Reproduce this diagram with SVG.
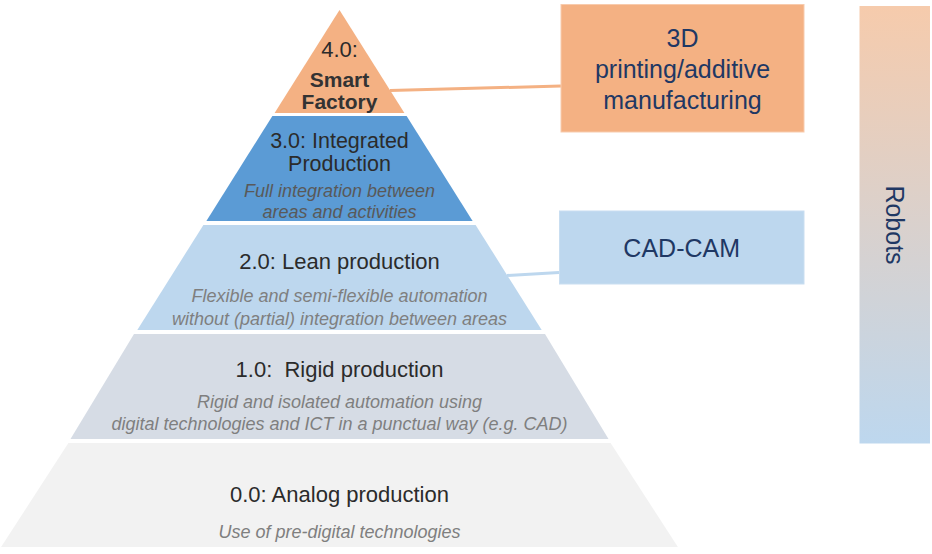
<svg xmlns="http://www.w3.org/2000/svg" width="932" height="554" viewBox="0 0 932 554">
<defs>
<linearGradient id="robotsGrad" x1="0" y1="0" x2="0" y2="1">
<stop offset="0" stop-color="#F6CBAC"/>
<stop offset="1" stop-color="#BDD7EE"/>
</linearGradient>
<style>
.title{font-family:"Liberation Sans",Arial,sans-serif;font-size:22px;fill:#2B2B2B;text-anchor:middle;white-space:pre}
.t3{font-size:21.5px}
.bold{font-weight:bold;font-size:21px;fill:#333333}
.desc{font-family:"Liberation Sans",Arial,sans-serif;font-size:18px;font-style:italic;fill:#7F7F7F;text-anchor:middle}
.desc3{fill:#595959}
.box{font-family:"Liberation Sans",Arial,sans-serif;font-size:25px;fill:#1F3864;text-anchor:middle}
.conn{fill:none;stroke-width:3}
</style>
</defs>
<rect width="932" height="554" fill="#FFFFFF"/>
<g id="connectors">
<line class="conn" x1="390" y1="90.5" x2="561" y2="86" stroke="#F4B183"/>
<line class="conn" x1="507" y1="275.5" x2="559" y2="272.5" stroke="#BDD7EE"/>
</g>
<g id="tier0">
<polygon points="68.4,443 610.6,443 677.9,547 1.1,547" fill="#F2F2F2"/>
<text class="title" x="339.5" y="502">0.0: Analog production</text>
<text class="desc" x="339.5" y="538">Use of pre-digital technologies</text>
</g>
<g id="tier1">
<polygon points="134,334 545,334 608.5,439 70.5,439" fill="#D6DCE5"/>
<text class="title" x="339.5" y="377">1.0:  Rigid production</text>
<text class="desc" x="339.5" y="408">Rigid and isolated automation using</text>
<text class="desc" x="339.5" y="430">digital technologies and ICT in a punctual way (e.g. CAD)</text>
</g>
<g id="tier2">
<polygon points="203.4,225 475.6,225 541.7,330 137.3,330" fill="#BDD7EE"/>
<text class="title" x="339.5" y="269">2.0: Lean production</text>
<text class="desc" x="339.5" y="302">Flexible and semi-flexible automation</text>
<text class="desc" x="339.5" y="325">without (partial) integration between areas</text>
</g>
<g id="tier3">
<polygon points="272.4,116 406.6,116 472.6,221 206.4,221" fill="#5B9BD5"/>
<text class="title t3" x="339.5" y="147.5">3.0: Integrated</text>
<text class="title t3" x="339.5" y="170.5">Production</text>
<text class="desc desc3" x="339.5" y="197">Full integration between</text>
<text class="desc desc3" x="339.5" y="218">areas and activities</text>
</g>
<g id="tier4">
<polygon points="339.5,10 404.4,113 274.6,113" fill="#F4B183"/>
<text class="title" x="339.5" y="57">4.0:</text>
<text class="title bold" x="339.5" y="87">Smart</text>
<text class="title bold" x="339.5" y="108.5">Factory</text>
</g>
<g id="box-3d">
<rect x="561" y="4.5" width="243" height="127.5" fill="#F4B183" stroke="#F8CBAD" stroke-width="1"/>
<text class="box" x="682.5" y="47">3D</text>
<text class="box" x="682.5" y="78">printing/additive</text>
<text class="box" x="682.5" y="109">manufacturing</text>
</g>
<g id="box-cadcam">
<rect x="559.5" y="211" width="244.5" height="73" fill="#BDD7EE" stroke="#C9DEF1" stroke-width="1"/>
<text class="box" x="681.7" y="257">CAD-CAM</text>
</g>
<g id="robots">
<rect x="859.5" y="6" width="70.5" height="437.5" fill="url(#robotsGrad)"/>
<text class="box" x="0" y="0" transform="translate(885.5,225) rotate(90)">Robots</text>
</g>
</svg>
